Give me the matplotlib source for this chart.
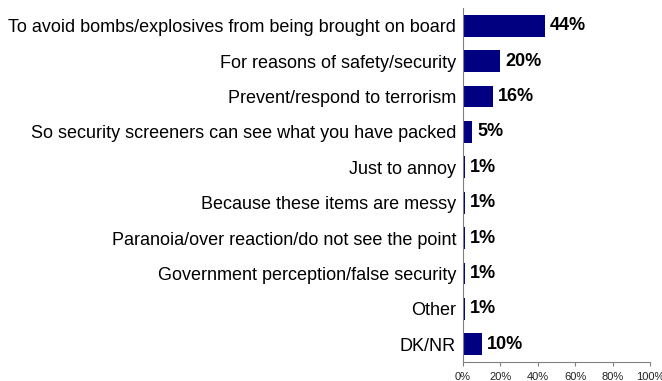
import matplotlib
matplotlib.use("Agg")
import matplotlib.pyplot as plt
from matplotlib.ticker import FuncFormatter

# reasons given, top to bottom, with share of respondents (%)
reasons = [
    "To avoid bombs/explosives from being brought on board",
    "For reasons of safety/security",
    "Prevent/respond to terrorism",
    "So security screeners can see what you have packed",
    "Just to annoy",
    "Because these items are messy",
    "Paranoia/over reaction/do not see the point",
    "Government perception/false security",
    "Other",
    "DK/NR",
]
shares = [44, 20, 16, 5, 1, 1, 1, 1, 1, 10]
x_ticks = [0, 20, 40, 60, 80, 100]

plt.rcParams["font.family"] = ["Liberation Sans", "DejaVu Sans"]

fig = plt.figure(figsize=(6.62, 3.81), dpi=100)
ax = fig.add_axes([0.6994, 0.0499, 0.2825, 0.929])

pos = list(range(len(reasons)))
ax.barh(pos, shares, height=0.62, color="#000080")
for y, v in zip(pos, shares):
    ax.annotate("%d%%" % v, (v, y), xytext=(3.5, 0), textcoords="offset points",
                va="center", ha="left", fontsize=13, fontweight="bold")

ax.set_ylim(len(reasons) - 0.5, -0.5)
ax.set_xlim(0, 100)
ax.set_yticks(pos)
ax.set_yticklabels(reasons, fontsize=13)
ax.tick_params(axis="y", length=0, pad=5)
ax.set_xticks(x_ticks)
ax.xaxis.set_major_formatter(FuncFormatter(lambda v, p: "%d%%" % v))
ax.tick_params(axis="x", labelsize=8, length=3, direction="out", color="#808080",
               labelcolor="#222222", pad=4)

for s in ["top", "right"]:
    ax.spines[s].set_visible(False)
ax.spines["left"].set_color("#808080")
ax.spines["bottom"].set_color("#808080")

fig.savefig("out.png", dpi=100)
